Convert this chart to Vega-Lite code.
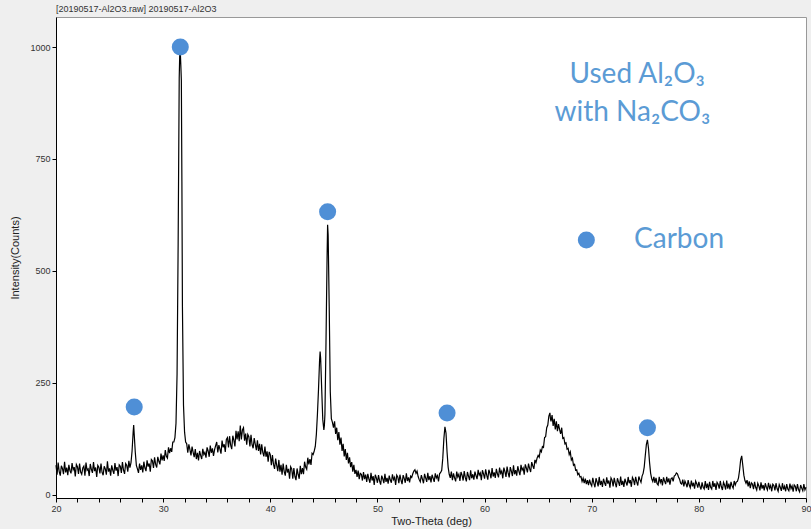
{
  "$schema": "https://vega.github.io/schema/vega-lite/v6.json",
  "width": 750,
  "height": 481,
  "autosize": "none",
  "padding": {"left": 56, "top": 17, "right": 5, "bottom": 31},
  "background": "#efefef",
  "title": {"text": "[20190517-Al2O3.raw] 20190517-Al2O3", "anchor": "start", "frame": "group", "fontSize": 9, "fontWeight": "normal", "font": "Liberation Sans", "color": "#333333", "offset": 3},
  "config": {
    "view": {"fill": "white", "stroke": "#999999", "strokeWidth": 1},
    "axis": {"grid": false, "labelOverlap": false, "labelFlush": false, "domainColor": "#000000", "tickColor": "#000000", "labelFont": "Liberation Sans", "labelFontSize": 9, "labelColor": "#333333", "titleFont": "Liberation Sans", "titleFontSize": 11, "titleFontWeight": "normal", "titleColor": "#222222"}
  },
  "encoding": {
    "x": {"field": "t", "type": "quantitative", "scale": {"domain": [20, 90], "nice": false, "zero": false},
      "axis": {"title": "Two-Theta (deg)", "values": [20,22,24,26,28,30,32,34,36,38,40,42,44,46,48,50,52,54,56,58,60,62,64,66,68,70,72,74,76,78,80,82,84,86,88,90],
        "labelExpr": "datum.value % 10 === 0 ? datum.label : ''", "labelOverlap": false, "tickSize": 4, "labelPadding": 2, "titlePadding": 2, "labelFlush": false}},
    "y": {"field": "c", "type": "quantitative", "scale": {"domain": [-7, 1067], "nice": false, "zero": false},
      "axis": {"title": "Intensity(Counts)", "values": [0, 250, 500, 750, 1000], "format": "d", "labelOverlap": false, "tickSize": 4, "labelPadding": 2, "titlePadding": 9}}
  },
  "layer": [
    {
      "data": {"values": [
{"t":20.0,"c":66},{"t":20.1,"c":45},{"t":20.2,"c":72},{"t":20.3,"c":52},{"t":20.4,"c":43},{"t":20.5,"c":65},{"t":20.6,"c":59},{"t":20.7,"c":46},{"t":20.8,"c":74},{"t":20.9,"c":50},
{"t":21.0,"c":61},{"t":21.1,"c":44},{"t":21.2,"c":67},{"t":21.3,"c":54},{"t":21.4,"c":48},{"t":21.5,"c":71},{"t":21.6,"c":56},{"t":21.7,"c":62},{"t":21.8,"c":41},{"t":21.9,"c":68},
{"t":22.0,"c":63},{"t":22.1,"c":47},{"t":22.2,"c":70},{"t":22.3,"c":51},{"t":22.4,"c":46},{"t":22.5,"c":60},{"t":22.6,"c":64},{"t":22.7,"c":43},{"t":22.8,"c":72},{"t":22.9,"c":55},
{"t":23.0,"c":58},{"t":23.1,"c":42},{"t":23.2,"c":69},{"t":23.3,"c":57},{"t":23.4,"c":49},{"t":23.5,"c":73},{"t":23.6,"c":53},{"t":23.7,"c":61},{"t":23.8,"c":40},{"t":23.9,"c":66},
{"t":24.0,"c":62},{"t":24.1,"c":48},{"t":24.2,"c":70},{"t":24.3,"c":50},{"t":24.4,"c":44},{"t":24.5,"c":64},{"t":24.6,"c":58},{"t":24.7,"c":45},{"t":24.8,"c":75},{"t":24.9,"c":52},
{"t":25.0,"c":59},{"t":25.1,"c":43},{"t":25.2,"c":66},{"t":25.3,"c":55},{"t":25.4,"c":47},{"t":25.5,"c":71},{"t":25.6,"c":54},{"t":25.7,"c":62},{"t":25.8,"c":42},{"t":25.9,"c":67},
{"t":26.0,"c":64},{"t":26.1,"c":49},{"t":26.2,"c":73},{"t":26.3,"c":55},{"t":26.4,"c":47},{"t":26.5,"c":70},{"t":26.6,"c":66},{"t":26.7,"c":52},{"t":26.8,"c":76},{"t":26.9,"c":61},
{"t":27.0,"c":72},{"t":27.1,"c":98},{"t":27.2,"c":140},{"t":27.25,"c":156},{"t":27.3,"c":135},{"t":27.4,"c":95},{"t":27.5,"c":66},{"t":27.6,"c":58},{"t":27.7,"c":49},{"t":27.8,"c":70},{"t":27.9,"c":56},
{"t":28.0,"c":66},{"t":28.1,"c":50},{"t":28.2,"c":74},{"t":28.3,"c":60},{"t":28.4,"c":53},{"t":28.5,"c":77},{"t":28.6,"c":63},{"t":28.7,"c":70},{"t":28.8,"c":52},{"t":28.9,"c":79},
{"t":29.0,"c":76},{"t":29.1,"c":60},{"t":29.2,"c":84},{"t":29.3,"c":68},{"t":29.4,"c":61},{"t":29.5,"c":85},{"t":29.6,"c":75},{"t":29.7,"c":68},{"t":29.8,"c":92},{"t":29.9,"c":77},
{"t":30.0,"c":88},{"t":30.1,"c":76},{"t":30.2,"c":100},{"t":30.3,"c":86},{"t":30.4,"c":82},{"t":30.5,"c":106},{"t":30.6,"c":93},{"t":30.7,"c":104},{"t":30.8,"c":96},{"t":30.9,"c":118},
{"t":31.0,"c":118},{"t":31.1,"c":128},{"t":31.2,"c":160},{"t":31.3,"c":270},{"t":31.4,"c":560},{"t":31.5,"c":930},{"t":31.55,"c":985},{"t":31.6,"c":990},{"t":31.65,"c":960},{"t":31.7,"c":925},{"t":31.75,"c":700},{"t":31.8,"c":420},{"t":31.9,"c":200},
{"t":32.0,"c":140},{"t":32.1,"c":118},{"t":32.2,"c":114},{"t":32.3,"c":94},{"t":32.4,"c":113},{"t":32.5,"c":101},{"t":32.6,"c":88},{"t":32.7,"c":108},{"t":32.8,"c":95},{"t":32.9,"c":84},
{"t":33.0,"c":102},{"t":33.1,"c":80},{"t":33.2,"c":94},{"t":33.3,"c":77},{"t":33.4,"c":98},{"t":33.5,"c":88},{"t":33.6,"c":80},{"t":33.7,"c":103},{"t":33.8,"c":90},{"t":33.9,"c":95},
{"t":34.0,"c":83},{"t":34.1,"c":106},{"t":34.2,"c":98},{"t":34.3,"c":85},{"t":34.4,"c":110},{"t":34.5,"c":94},{"t":34.6,"c":104},{"t":34.7,"c":87},{"t":34.8,"c":101},{"t":34.9,"c":110},
{"t":35.0,"c":118},{"t":35.1,"c":95},{"t":35.2,"c":111},{"t":35.3,"c":102},{"t":35.4,"c":92},{"t":35.5,"c":121},{"t":35.6,"c":106},{"t":35.7,"c":113},{"t":35.8,"c":96},{"t":35.9,"c":124},
{"t":36.0,"c":128},{"t":36.1,"c":106},{"t":36.2,"c":131},{"t":36.3,"c":111},{"t":36.4,"c":102},{"t":36.5,"c":132},{"t":36.6,"c":122},{"t":36.7,"c":108},{"t":36.8,"c":143},{"t":36.9,"c":124},
{"t":37.0,"c":142},{"t":37.1,"c":120},{"t":37.2,"c":155},{"t":37.3,"c":124},{"t":37.4,"c":145},{"t":37.5,"c":150},{"t":37.6,"c":121},{"t":37.7,"c":137},{"t":37.8,"c":112},{"t":37.9,"c":135},
{"t":38.0,"c":130},{"t":38.1,"c":108},{"t":38.2,"c":134},{"t":38.3,"c":112},{"t":38.4,"c":104},{"t":38.5,"c":127},{"t":38.6,"c":113},{"t":38.7,"c":100},{"t":38.8,"c":122},{"t":38.9,"c":98},
{"t":39.0,"c":114},{"t":39.1,"c":90},{"t":39.2,"c":113},{"t":39.3,"c":95},{"t":39.4,"c":86},{"t":39.5,"c":108},{"t":39.6,"c":85},{"t":39.7,"c":97},{"t":39.8,"c":74},{"t":39.9,"c":96},
{"t":40.0,"c":90},{"t":40.1,"c":66},{"t":40.2,"c":89},{"t":40.3,"c":68},{"t":40.4,"c":58},{"t":40.5,"c":81},{"t":40.6,"c":66},{"t":40.7,"c":53},{"t":40.8,"c":78},{"t":40.9,"c":52},
{"t":41.0,"c":67},{"t":41.1,"c":45},{"t":41.2,"c":70},{"t":41.3,"c":52},{"t":41.4,"c":43},{"t":41.5,"c":67},{"t":41.6,"c":50},{"t":41.7,"c":58},{"t":41.8,"c":36},{"t":41.9,"c":63},
{"t":42.0,"c":58},{"t":42.1,"c":36},{"t":42.2,"c":60},{"t":42.3,"c":41},{"t":42.4,"c":33},{"t":42.5,"c":59},{"t":42.6,"c":46},{"t":42.7,"c":36},{"t":42.8,"c":65},{"t":42.9,"c":46},
{"t":43.0,"c":60},{"t":43.1,"c":46},{"t":43.2,"c":74},{"t":43.3,"c":62},{"t":43.4,"c":57},{"t":43.5,"c":83},{"t":43.6,"c":68},{"t":43.7,"c":80},{"t":43.8,"c":67},{"t":43.9,"c":93},
{"t":44.0,"c":90},{"t":44.1,"c":98},{"t":44.2,"c":108},{"t":44.3,"c":135},{"t":44.4,"c":180},{"t":44.5,"c":235},{"t":44.6,"c":300},{"t":44.65,"c":320},{"t":44.7,"c":305},{"t":44.8,"c":235},{"t":44.9,"c":168},
{"t":45.0,"c":145},{"t":45.05,"c":155},{"t":45.1,"c":180},{"t":45.2,"c":340},{"t":45.3,"c":530},{"t":45.35,"c":603},{"t":45.4,"c":580},{"t":45.5,"c":420},{"t":45.6,"c":230},{"t":45.7,"c":170},{"t":45.8,"c":162},{"t":45.9,"c":150},
{"t":46.0,"c":164},{"t":46.1,"c":136},{"t":46.2,"c":150},{"t":46.3,"c":122},{"t":46.4,"c":140},{"t":46.5,"c":112},{"t":46.6,"c":128},{"t":46.7,"c":98},{"t":46.8,"c":114},{"t":46.9,"c":86},
{"t":47.0,"c":102},{"t":47.1,"c":78},{"t":47.2,"c":94},{"t":47.3,"c":70},{"t":47.4,"c":84},{"t":47.5,"c":62},{"t":47.6,"c":73},{"t":47.7,"c":52},{"t":47.8,"c":67},{"t":47.9,"c":47},
{"t":48.0,"c":56},{"t":48.1,"c":40},{"t":48.2,"c":54},{"t":48.3,"c":35},{"t":48.4,"c":48},{"t":48.5,"c":46},{"t":48.6,"c":32},{"t":48.7,"c":51},{"t":48.8,"c":35},{"t":48.9,"c":45},
{"t":49.0,"c":29},{"t":49.1,"c":47},{"t":49.2,"c":36},{"t":49.3,"c":27},{"t":49.4,"c":49},{"t":49.5,"c":32},{"t":49.6,"c":42},{"t":49.7,"c":22},{"t":49.8,"c":45},{"t":49.9,"c":38},
{"t":50.0,"c":27},{"t":50.1,"c":44},{"t":50.2,"c":31},{"t":50.3,"c":23},{"t":50.4,"c":43},{"t":50.5,"c":36},{"t":50.6,"c":26},{"t":50.7,"c":47},{"t":50.8,"c":29},{"t":50.9,"c":38},
{"t":51.0,"c":25},{"t":51.1,"c":43},{"t":51.2,"c":33},{"t":51.3,"c":27},{"t":51.4,"c":46},{"t":51.5,"c":34},{"t":51.6,"c":39},{"t":51.7,"c":22},{"t":51.8,"c":44},{"t":51.9,"c":40},
{"t":52.0,"c":26},{"t":52.1,"c":45},{"t":52.2,"c":33},{"t":52.3,"c":24},{"t":52.4,"c":44},{"t":52.5,"c":37},{"t":52.6,"c":27},{"t":52.7,"c":48},{"t":52.8,"c":31},{"t":52.9,"c":39},
{"t":53.0,"c":28},{"t":53.1,"c":42},{"t":53.2,"c":39},{"t":53.3,"c":47},{"t":53.4,"c":53},{"t":53.5,"c":56},{"t":53.6,"c":48},{"t":53.7,"c":53},{"t":53.8,"c":41},{"t":53.9,"c":34},
{"t":54.0,"c":29},{"t":54.1,"c":44},{"t":54.2,"c":35},{"t":54.3,"c":26},{"t":54.4,"c":47},{"t":54.5,"c":38},{"t":54.6,"c":29},{"t":54.7,"c":49},{"t":54.8,"c":33},{"t":54.9,"c":42},
{"t":55.0,"c":28},{"t":55.1,"c":45},{"t":55.2,"c":37},{"t":55.3,"c":29},{"t":55.4,"c":48},{"t":55.5,"c":38},{"t":55.6,"c":43},{"t":55.7,"c":30},{"t":55.8,"c":47},{"t":55.9,"c":50},
{"t":56.0,"c":55},{"t":56.1,"c":82},{"t":56.2,"c":125},{"t":56.3,"c":152},{"t":56.4,"c":138},{"t":56.5,"c":95},{"t":56.6,"c":62},{"t":56.7,"c":46},{"t":56.8,"c":38},{"t":56.9,"c":52},
{"t":57.0,"c":33},{"t":57.1,"c":48},{"t":57.2,"c":38},{"t":57.3,"c":30},{"t":57.4,"c":52},{"t":57.5,"c":40},{"t":57.6,"c":46},{"t":57.7,"c":31},{"t":57.8,"c":51},{"t":57.9,"c":44},
{"t":58.0,"c":32},{"t":58.1,"c":53},{"t":58.2,"c":39},{"t":58.3,"c":30},{"t":58.4,"c":51},{"t":58.5,"c":42},{"t":58.6,"c":33},{"t":58.7,"c":55},{"t":58.8,"c":37},{"t":58.9,"c":46},
{"t":59.0,"c":34},{"t":59.1,"c":52},{"t":59.2,"c":43},{"t":59.3,"c":35},{"t":59.4,"c":56},{"t":59.5,"c":44},{"t":59.6,"c":49},{"t":59.7,"c":33},{"t":59.8,"c":55},{"t":59.9,"c":47},
{"t":60.0,"c":36},{"t":60.1,"c":57},{"t":60.2,"c":44},{"t":60.3,"c":34},{"t":60.4,"c":56},{"t":60.5,"c":48},{"t":60.6,"c":37},{"t":60.7,"c":60},{"t":60.8,"c":41},{"t":60.9,"c":50},
{"t":61.0,"c":38},{"t":61.1,"c":58},{"t":61.2,"c":47},{"t":61.3,"c":39},{"t":61.4,"c":61},{"t":61.5,"c":48},{"t":61.6,"c":53},{"t":61.7,"c":37},{"t":61.8,"c":61},{"t":61.9,"c":52},
{"t":62.0,"c":40},{"t":62.1,"c":63},{"t":62.2,"c":49},{"t":62.3,"c":39},{"t":62.4,"c":62},{"t":62.5,"c":53},{"t":62.6,"c":42},{"t":62.7,"c":66},{"t":62.8,"c":46},{"t":62.9,"c":55},
{"t":63.0,"c":43},{"t":63.1,"c":64},{"t":63.2,"c":53},{"t":63.3,"c":44},{"t":63.4,"c":67},{"t":63.5,"c":55},{"t":63.6,"c":60},{"t":63.7,"c":45},{"t":63.8,"c":68},{"t":63.9,"c":60},
{"t":64.0,"c":50},{"t":64.1,"c":70},{"t":64.2,"c":59},{"t":64.3,"c":51},{"t":64.4,"c":73},{"t":64.5,"c":65},{"t":64.6,"c":58},{"t":64.7,"c":78},{"t":64.8,"c":72},{"t":64.9,"c":82},
{"t":65.0,"c":88},{"t":65.1,"c":84},{"t":65.2,"c":100},{"t":65.3,"c":96},{"t":65.4,"c":108},{"t":65.5,"c":106},{"t":65.6,"c":128},{"t":65.7,"c":130},{"t":65.8,"c":150},{"t":65.9,"c":156},
{"t":66.0,"c":176},{"t":66.1,"c":183},{"t":66.15,"c":170},{"t":66.2,"c":164},{"t":66.3,"c":178},{"t":66.4,"c":154},{"t":66.5,"c":170},{"t":66.6,"c":146},{"t":66.7,"c":164},{"t":66.8,"c":142},{"t":66.9,"c":158},
{"t":67.0,"c":146},{"t":67.1,"c":136},{"t":67.2,"c":150},{"t":67.3,"c":126},{"t":67.4,"c":128},{"t":67.5,"c":114},{"t":67.6,"c":116},{"t":67.7,"c":102},{"t":67.8,"c":104},{"t":67.9,"c":90},
{"t":68.0,"c":96},{"t":68.1,"c":78},{"t":68.2,"c":82},{"t":68.3,"c":66},{"t":68.4,"c":68},{"t":68.5,"c":55},{"t":68.6,"c":56},{"t":68.7,"c":45},{"t":68.8,"c":48},{"t":68.9,"c":40},
{"t":69.0,"c":41},{"t":69.1,"c":30},{"t":69.2,"c":37},{"t":69.3,"c":26},{"t":69.4,"c":36},{"t":69.5,"c":24},{"t":69.6,"c":33},{"t":69.7,"c":22},{"t":69.8,"c":34},{"t":69.9,"c":25},
{"t":70.0,"c":20},{"t":70.1,"c":38},{"t":70.2,"c":26},{"t":70.3,"c":17},{"t":70.4,"c":37},{"t":70.5,"c":29},{"t":70.6,"c":19},{"t":70.7,"c":40},{"t":70.8,"c":22},{"t":70.9,"c":31},
{"t":71.0,"c":18},{"t":71.1,"c":36},{"t":71.2,"c":27},{"t":71.3,"c":20},{"t":71.4,"c":39},{"t":71.5,"c":25},{"t":71.6,"c":32},{"t":71.7,"c":16},{"t":71.8,"c":38},{"t":71.9,"c":33},
{"t":72.0,"c":19},{"t":72.1,"c":38},{"t":72.2,"c":26},{"t":72.3,"c":17},{"t":72.4,"c":37},{"t":72.5,"c":29},{"t":72.6,"c":20},{"t":72.7,"c":41},{"t":72.8,"c":22},{"t":72.9,"c":31},
{"t":73.0,"c":18},{"t":73.1,"c":36},{"t":73.2,"c":28},{"t":73.3,"c":21},{"t":73.4,"c":40},{"t":73.5,"c":26},{"t":73.6,"c":33},{"t":73.7,"c":18},{"t":73.8,"c":39},{"t":73.9,"c":34},
{"t":74.0,"c":22},{"t":74.1,"c":40},{"t":74.2,"c":29},{"t":74.3,"c":21},{"t":74.4,"c":41},{"t":74.5,"c":34},{"t":74.6,"c":28},{"t":74.7,"c":42},{"t":74.8,"c":48},{"t":74.9,"c":62},
{"t":75.0,"c":88},{"t":75.1,"c":112},{"t":75.2,"c":123},{"t":75.3,"c":104},{"t":75.4,"c":72},{"t":75.5,"c":48},{"t":75.6,"c":36},{"t":75.7,"c":30},{"t":75.8,"c":40},{"t":75.9,"c":27},
{"t":76.0,"c":38},{"t":76.1,"c":25},{"t":76.2,"c":22},{"t":76.3,"c":40},{"t":76.4,"c":28},{"t":76.5,"c":35},{"t":76.6,"c":21},{"t":76.7,"c":39},{"t":76.8,"c":31},{"t":76.9,"c":24},
{"t":77.0,"c":40},{"t":77.1,"c":28},{"t":77.2,"c":37},{"t":77.3,"c":23},{"t":77.4,"c":36},{"t":77.5,"c":38},{"t":77.6,"c":30},{"t":77.7,"c":42},{"t":77.8,"c":44},{"t":77.9,"c":49},
{"t":78.0,"c":47},{"t":78.1,"c":40},{"t":78.2,"c":35},{"t":78.3,"c":26},{"t":78.4,"c":24},{"t":78.5,"c":34},{"t":78.6,"c":19},{"t":78.7,"c":31},{"t":78.8,"c":25},{"t":78.9,"c":17},
{"t":79.0,"c":33},{"t":79.1,"c":22},{"t":79.2,"c":16},{"t":79.3,"c":32},{"t":79.4,"c":19},{"t":79.5,"c":27},{"t":79.6,"c":14},{"t":79.7,"c":31},{"t":79.8,"c":25},{"t":79.9,"c":16},
{"t":80.0,"c":29},{"t":80.1,"c":19},{"t":80.2,"c":12},{"t":80.3,"c":28},{"t":80.4,"c":17},{"t":80.5,"c":13},{"t":80.6,"c":31},{"t":80.7,"c":15},{"t":80.8,"c":25},{"t":80.9,"c":11},
{"t":81.0,"c":29},{"t":81.1,"c":17},{"t":81.2,"c":13},{"t":81.3,"c":31},{"t":81.4,"c":18},{"t":81.5,"c":26},{"t":81.6,"c":11},{"t":81.7,"c":28},{"t":81.8,"c":24},{"t":81.9,"c":14},
{"t":82.0,"c":31},{"t":82.1,"c":18},{"t":82.2,"c":11},{"t":82.3,"c":28},{"t":82.4,"c":22},{"t":82.5,"c":12},{"t":82.6,"c":32},{"t":82.7,"c":14},{"t":82.8,"c":25},{"t":82.9,"c":12},
{"t":83.0,"c":29},{"t":83.1,"c":20},{"t":83.2,"c":15},{"t":83.3,"c":31},{"t":83.4,"c":22},{"t":83.5,"c":29},{"t":83.6,"c":30},{"t":83.7,"c":38},{"t":83.8,"c":55},{"t":83.9,"c":78},
{"t":84.0,"c":87},{"t":84.1,"c":66},{"t":84.2,"c":44},{"t":84.3,"c":32},{"t":84.4,"c":26},{"t":84.5,"c":33},{"t":84.6,"c":19},{"t":84.7,"c":30},{"t":84.8,"c":15},{"t":84.9,"c":27},
{"t":85.0,"c":24},{"t":85.1,"c":13},{"t":85.2,"c":29},{"t":85.3,"c":17},{"t":85.4,"c":11},{"t":85.5,"c":26},{"t":85.6,"c":20},{"t":85.7,"c":10},{"t":85.8,"c":28},{"t":85.9,"c":14},
{"t":86.0,"c":22},{"t":86.1,"c":10},{"t":86.2,"c":26},{"t":86.3,"c":17},{"t":86.4,"c":11},{"t":86.5,"c":27},{"t":86.6,"c":15},{"t":86.7,"c":21},{"t":86.8,"c":8},{"t":86.9,"c":24},
{"t":87.0,"c":21},{"t":87.1,"c":10},{"t":87.2,"c":26},{"t":87.3,"c":14},{"t":87.4,"c":8},{"t":87.5,"c":23},{"t":87.6,"c":17},{"t":87.7,"c":9},{"t":87.8,"c":26},{"t":87.9,"c":12},
{"t":88.0,"c":19},{"t":88.1,"c":8},{"t":88.2,"c":24},{"t":88.3,"c":13},{"t":88.4,"c":9},{"t":88.5,"c":25},{"t":88.6,"c":14},{"t":88.7,"c":20},{"t":88.8,"c":7},{"t":88.9,"c":22},
{"t":89.0,"c":19},{"t":89.1,"c":8},{"t":89.2,"c":24},{"t":89.3,"c":12},{"t":89.4,"c":7},{"t":89.5,"c":22},{"t":89.6,"c":15},{"t":89.7,"c":9},{"t":89.8,"c":24},{"t":89.9,"c":11},
{"t":90.0,"c":17}
      ]},
      "mark": {"type": "line", "color": "#000000", "strokeWidth": 1.2, "interpolate": "linear"}
    },
    {
      "data": {"values": [
        {"t": 27.3, "c": 196},
        {"t": 31.6, "c": 1000},
        {"t": 45.35, "c": 632},
        {"t": 56.5, "c": 183},
        {"t": 75.2, "c": 150},
        {"t": 69.5, "c": 569}
      ]},
      "mark": {"type": "circle", "color": "#4f8fd6", "opacity": 1, "size": 290}
    },
    {
      "data": {"values": [
        {"t": 74.25, "c": 937, "label": "Used Al₂O₃"},
        {"t": 73.8, "c": 853, "label": "with Na₂CO₃"}
      ]},
      "mark": {"type": "text", "align": "center", "baseline": "middle", "font": "Lato", "fontSize": 28, "color": "#5b9bd5"},
      "encoding": {"text": {"field": "label"}}
    },
    {
      "data": {"values": [
        {"t": 73.95, "c": 569, "label": "Carbon"}
      ]},
      "mark": {"type": "text", "align": "left", "baseline": "middle", "font": "Lato", "fontSize": 28, "color": "#5b9bd5"},
      "encoding": {"text": {"field": "label"}}
    }
  ]
}
